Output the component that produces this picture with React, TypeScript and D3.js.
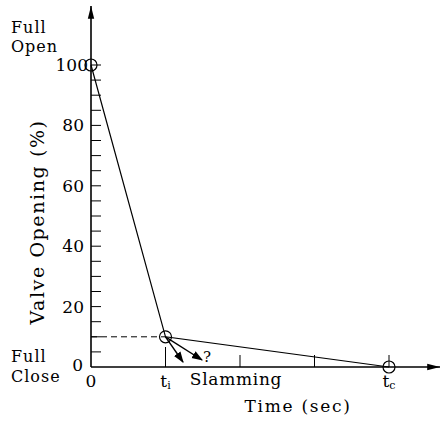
import * as d3 from "d3";

// time in units of t_i, opening in %
const times = [0, 1, 4];
const openings = [100, 10, 0];
const yTicks = [0, 20, 40, 60, 80, 100];
const yMinor = d3.range(0, 101, 5);
const xTicks = [1, 2, 3, 4];
const xLabelPos = [0, 1, 4];
const xLabels = ["0", "ti", "tc"];

export default function App() {
  const W = 448, H = 422;
  const x = d3.scaleLinear().domain([0, 4]).range([91, 389]);
  const y = d3.scaleLinear().domain([0, 100]).range([367, 65]);
  const font = "'DejaVu Serif', serif";
  const pts = times.map((t, i) => [x(t), y(openings[i])] as [number, number]);
  const line = d3.line()(pts) || "";
  const [tx, ty] = pts[1];

  return (
    <svg width={W} height={H} style={{ position: "absolute", left: 0, top: 0, background: "#fff" }}
      fontFamily={font} fontSize={17}>
      <defs>
        <marker id="ah" viewBox="0 0 10 10" refX="9" refY="5" markerWidth="8" markerHeight="8" orient="auto">
          <path d="M0,1.5 L10,5 L0,8.5 Z" fill="#000" />
        </marker>
        <marker id="ax" viewBox="0 0 10 10" refX="10" refY="5" markerWidth="8" markerHeight="8" orient="auto">
          <path d="M0,2.5 L10,5 L0,7.5 Z" fill="#000" />
        </marker>
      </defs>
      {/* axes */}
      <line x1={x(0)} y1={y(0)} x2={x(0)} y2={6} stroke="#000" strokeWidth={1.6} markerEnd="url(#ax)" />
      <line x1={x(0)} y1={y(0)} x2={440} y2={y(0)} stroke="#000" strokeWidth={1.6} markerEnd="url(#ax)" />
      {yMinor.filter(v => v > 0).map(v => (
        <line key={v} x1={x(0)} x2={x(0) + 10} y1={y(v)} y2={y(v)} stroke="#000" strokeWidth={1} />
      ))}
      {yTicks.map(v => (
        <text key={v} x={v === 0 ? 83 : v === 100 ? 88 : 84} y={y(v) + (v === 0 ? 4 : 6)} textAnchor="end">{v}</text>
      ))}
      {xTicks.map(t => (
        <line key={t} x1={x(t)} x2={x(t)} y1={y(0)} y2={y(0) - (t === 1 ? 20 : 12)} stroke="#000" strokeWidth={1} />
      ))}
      {xLabels.map((l, i) => (
        <text key={i} x={x(xLabelPos[i])} y={387} textAnchor="middle">
          {l.length > 1 ? <>{l[0]}<tspan fontSize={11} dy={2}>{l.slice(1)}</tspan></> : l}
        </text>
      ))}
      <text x={236} y={385} textAnchor="middle" letterSpacing={0.7}>Slamming</text>
      <text x={298} y={412} textAnchor="middle" letterSpacing={1.7}>Time (sec)</text>
      <text transform={`translate(44,222) rotate(-90)`} textAnchor="middle" fontSize={19} letterSpacing={1.6}>Valve Opening (%)</text>
      <g fontSize={16} letterSpacing={1}>
        <text x={11} y={33}>Full</text>
        <text x={11} y={52}>Open</text>
        <text x={11} y={362}>Full</text>
        <text x={11} y={382}>Close</text>
      </g>
      {/* dashed level */}
      <line x1={x(0)} x2={tx} y1={ty} y2={ty} stroke="#000" strokeDasharray="6,4" strokeWidth={1} />
      {/* closure path */}
      <path d={line} fill="none" stroke="#000" strokeWidth={1.2} />
      {pts.map((p, i) => (
        <circle key={i} cx={p[0]} cy={p[1]} r={6} fill="none" stroke="#000" strokeWidth={1.2} />
      ))}
      {/* slamming arrows */}
      <line x1={tx} y1={ty} x2={183} y2={362} stroke="#000" strokeWidth={1.4} markerEnd="url(#ah)" />
      <line x1={tx} y1={ty} x2={202} y2={360} stroke="#000" strokeWidth={1.4} markerEnd="url(#ah)" />
      <text x={203} y={362} fontSize={15}>?</text>
    </svg>
  );
}
